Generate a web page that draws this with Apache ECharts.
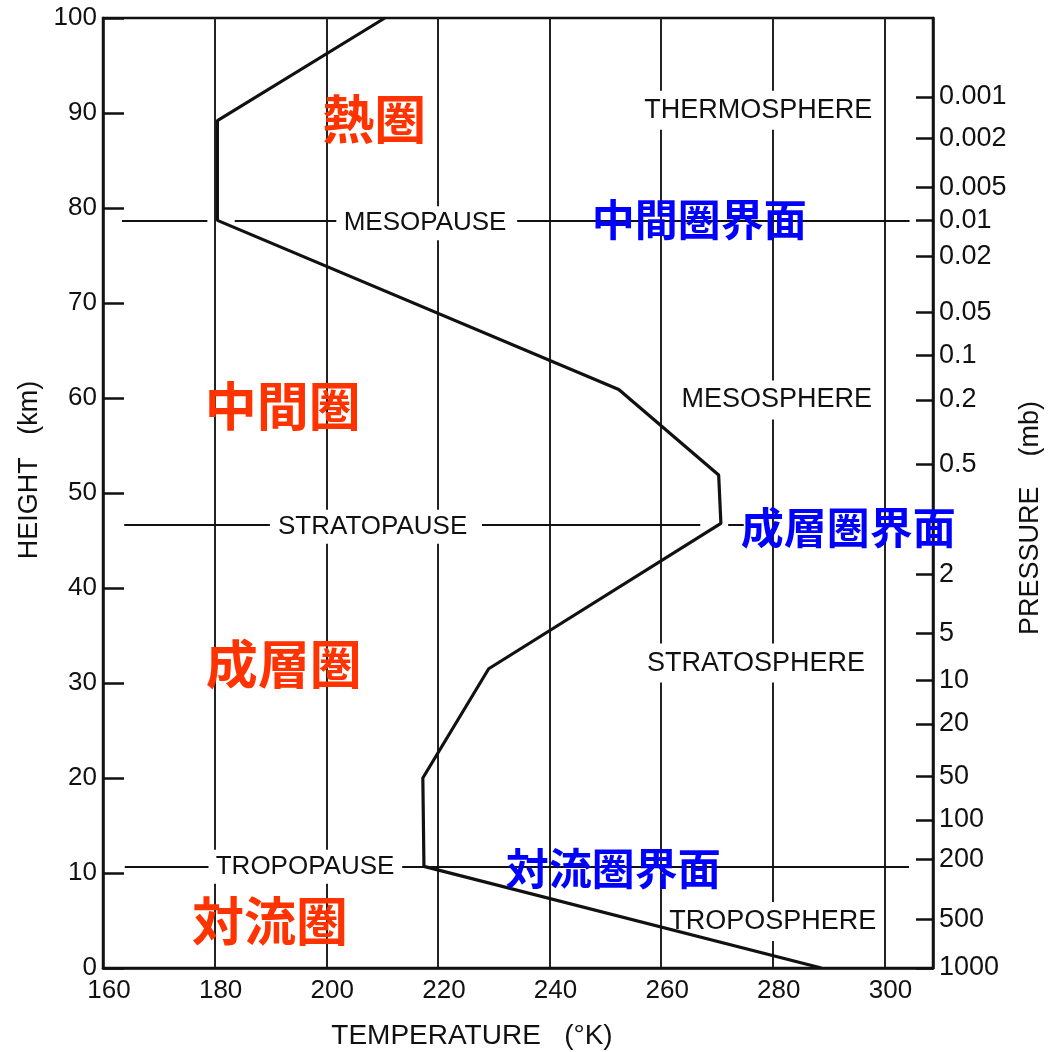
<!DOCTYPE html>
<html>
<head>
<meta charset="utf-8">
<script src="https://cdn.jsdelivr.net/npm/echarts@6/dist/echarts.min.js"></script>
<style>
html,body{margin:0;padding:0;background:#fff;}
#chart{width:1050px;height:1052px;}
</style>
</head>
<body>
<div id="chart"></div>
<script>
// ---- data ----
const profileTemp   = [288.7, 217.5, 217.3, 229.1, 270.7, 270.3, 252.4, 180.5, 180.5, 210.5];
const profileHeight = [0, 10.7, 20.0, 31.5, 46.8, 51.9, 60.9, 78.7, 89.2, 100];

const pressureLabels  = ['0.001','0.002','0.005','0.01','0.02','0.05','0.1','0.2','0.5','','2','5','10','20','50','100','200','500','1000'];
const pressureHeights = [91.7, 87.3, 82.2, 78.7, 74.9, 69.0, 64.5, 59.8, 53.0, 48.0, 41.4, 35.2, 30.3, 25.7, 20.2, 15.6, 11.4, 5.1, 0];

const pauseNames    = ['MESOPAUSE', 'STRATOPAUSE', 'TROPOPAUSE'];
const pauseHeights  = [78.7, 46.7, 10.7];
const pauseSegments = [
  [[163.4, 178.7], [183.6, 201.8], [234.2, 304.5]],
  [[163.8, 189.9], [227.9, 267.0], [272.0, 274.8]],
  [[163.9, 178.9], [213.6, 304.4]]
];
const pauseLabelTemp   = [217.7, 208.3, 196.2];
const pauseLabelHeight = [78.4, 46.45, 10.66];

const layerNames  = ['THERMOSPHERE', 'MESOSPHERE', 'STRATOSPHERE', 'TROPOSPHERE'];
const layerTemp   = [277.4, 280.7, 277.0, 280.0];
const layerHeight = [90.3, 59.8, 32.1, 4.9];

const jpLayerNames  = ['熱圏', '中間圏', '成層圏', '対流圏'];
const jpLayerTemp   = [208.6, 192.2, 192.4, 189.9];
const jpLayerHeight = [89.3, 59.1, 32.0, 4.9];

const jpPauseNames  = ['中間圏界面', '成層圏界面', '対流圏界面'];
const jpPauseTemp   = [266.8, 293.5, 251.4];
const jpPauseHeight = [78.8, 46.4, 10.5];

const xTicks = [160, 180, 200, 220, 240, 260, 280, 300];
const yTicks = [0, 10, 20, 30, 40, 50, 60, 70, 80, 90, 100];

// ---- chart ----
const FONT = '"Liberation Sans", Arial, sans-serif';
const JFONT = '"Noto Sans CJK JP", "Noto Sans CJK SC", sans-serif';
const INK = '#111';

const chart = echarts.init(document.getElementById('chart'), null, {renderer: 'canvas'});

function zip(a, b) { return a.map((v, i) => [v, b[i]]); }

const pauseLineData = [];
pauseSegments.forEach((segs, i) => {
  segs.forEach(s => pauseLineData.push({coords: [[s[0], pauseHeights[i]], [s[1], pauseHeights[i]]]}));
});

function textSeries(names, xs, ys, style, extra) {
  return Object.assign({
    type: 'scatter',
    symbolSize: 0,
    silent: true,
    z: 10,
    itemStyle: {opacity: 1},
    data: names.map((n, i) => ({name: n, value: [xs[i], ys[i]]})),
    label: Object.assign({
      show: true,
      opacity: 1,
      position: 'inside',
      formatter: p => p.name
    }, style)
  }, extra || {});
}

const option = {
  backgroundColor: '#fff',
  animation: false,
  grid: {
    left: 103, right: 117, top: 18, bottom: 84,
    outerBoundsMode: 'none',
    containLabel: false,
    show: true, borderColor: INK, borderWidth: 2.5, backgroundColor: 'transparent'
  },
  xAxis: {
    type: 'value',
    min: 160, max: 308.7, interval: 20,
    axisLine: {show: true, lineStyle: {color: INK, width: 2.5}},
    axisTick: {show: false},
    axisLabel: {
      color: INK, fontFamily: FONT, fontSize: 26, margin: 10,
      padding: [0, 0, 0, 12],
      customValues: xTicks,
      formatter: v => String(v)
    },
    splitLine: {show: true, lineStyle: {color: '#222', width: 2}},
    name: 'TEMPERATURE   (°K)',
    nameLocation: 'middle',
    nameGap: 54,
    nameTextStyle: {color: INK, fontFamily: FONT, fontSize: 28, padding: [0, 92, 0, 0]}
  },
  yAxis: [
    {
      type: 'value',
      min: 0, max: 100, interval: 10,
      axisLine: {show: true, lineStyle: {color: INK, width: 2.5}},
      axisTick: {show: true, inside: true, length: 21, lineStyle: {color: INK, width: 2.5}, customValues: yTicks},
      axisLabel: {color: INK, fontFamily: FONT, fontSize: 26, margin: 6, customValues: yTicks},
      splitLine: {show: false},
      name: 'HEIGHT   (km)',
      nameLocation: 'middle',
      nameRotate: 90,
      nameGap: 60,
      nameTextStyle: {color: INK, fontFamily: FONT, fontSize: 27, padding: [0, 0, 0, 46]}
    },
    {
      type: 'value',
      position: 'right',
      min: 0, max: 100,
      axisLine: {show: true, lineStyle: {color: INK, width: 2.5}},
      axisTick: {show: true, inside: true, length: 17, lineStyle: {color: INK, width: 2.5}, customValues: pressureHeights},
      axisLabel: {
        color: INK, fontFamily: FONT, fontSize: 27, margin: 6,
        customValues: pressureHeights,
        formatter: v => {
          let best = 0, d = 1e9;
          pressureHeights.forEach((h, i) => { if (Math.abs(h - v) < d) { d = Math.abs(h - v); best = i; } });
          return pressureLabels[best];
        }
      },
      splitLine: {show: false},
      name: 'PRESSURE    (mb)',
      nameLocation: 'middle',
      nameRotate: 90,
      nameGap: 84,
      nameTextStyle: {color: INK, fontFamily: FONT, fontSize: 27, padding: [0, 50, 0, 0]}
    }
  ],
  series: [
    {
      type: 'lines',
      coordinateSystem: 'cartesian2d',
      polyline: false,
      silent: true,
      z: 3,
      lineStyle: {color: INK, width: 2, opacity: 1},
      data: pauseLineData
    },
    {
      type: 'line',
      data: zip(profileTemp, profileHeight),
      symbol: 'none',
      silent: true,
      z: 11,
      lineStyle: {color: '#111', width: 3.2},
      itemStyle: {color: '#111'}
    },
    textSeries(layerNames, layerTemp, layerHeight, {
      color: INK, fontFamily: FONT, fontSize: 27, backgroundColor: '#fff', padding: [6, 3]
    }),
    textSeries(pauseNames, pauseLabelTemp, pauseLabelHeight, {
      color: INK, fontFamily: FONT, fontSize: 26, backgroundColor: '#fff', padding: [4, 3]
    }),
    textSeries(jpLayerNames, jpLayerTemp, jpLayerHeight, {
      color: '#ff3300', fontFamily: JFONT, fontSize: 52, fontWeight: 'bold'
    }, {z: 12}),
    textSeries(jpPauseNames, jpPauseTemp, jpPauseHeight, {
      color: '#0000ff', fontFamily: JFONT, fontSize: 43, fontWeight: 'bold'
    }, {z: 12})
  ]
};

chart.setOption(option);
</script>
</body>
</html>
